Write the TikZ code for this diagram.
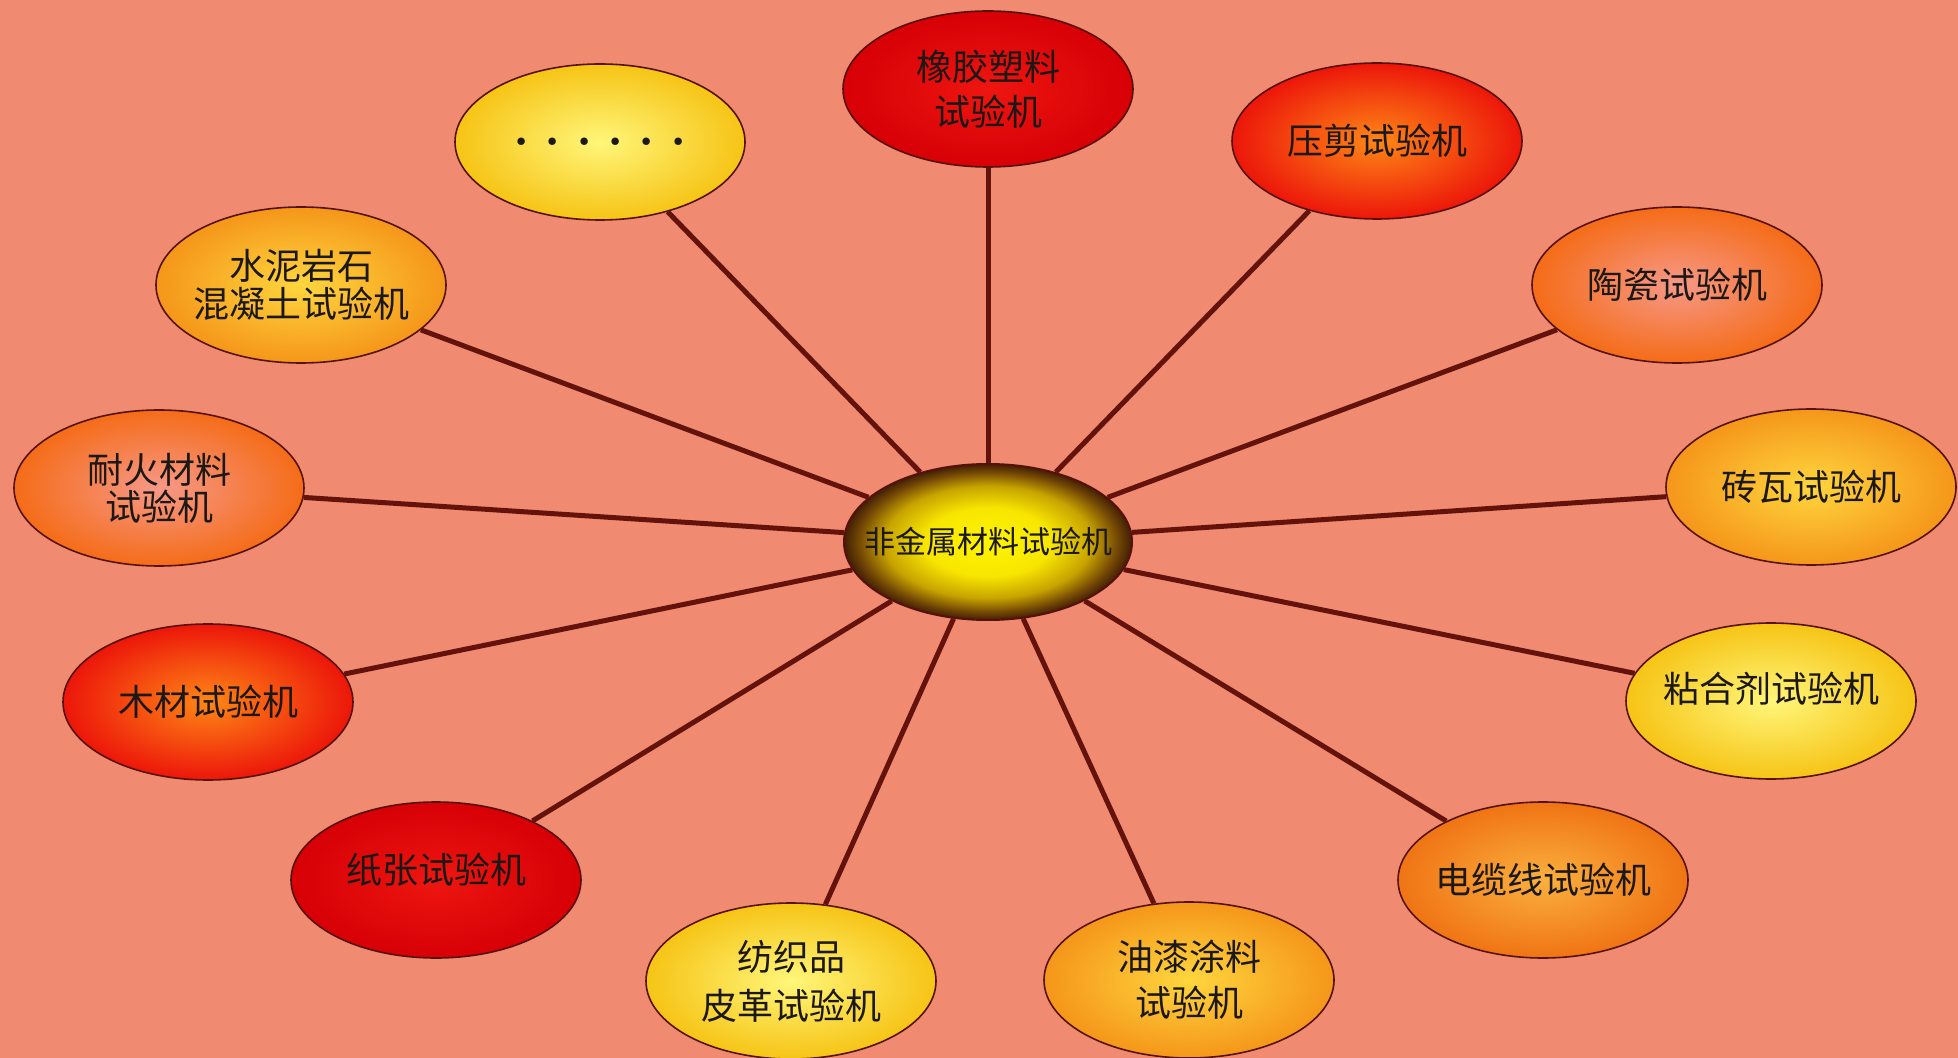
\documentclass[tikz,border=0pt]{standalone}
\usepackage{fontspec}
\newfontfamily\cjk{Noto Sans CJK SC}
\usetikzlibrary{shapes.geometric}
\definecolor{bg}{RGB}{240,138,112}
\definecolor{wire}{RGB}{100,18,12}
\definecolor{rim}{RGB}{85,18,10}
\definecolor{textc}{RGB}{28,24,22}
\pgfdeclareradialshading{hubshade}{\pgfpoint{0bp}{0bp}}{rgb(0bp)=(1,0.96,0); rgb(11bp)=(0.97,0.9,0); rgb(18bp)=(0.78,0.64,0); rgb(22.5bp)=(0.45,0.28,0.02); rgb(25bp)=(0.26,0.12,0.02); rgb(50bp)=(0.26,0.12,0.02)}
\begin{document}
\begin{tikzpicture}[x=0.5pt,y=-0.5pt,
  bubble/.style={ellipse, draw=rim, line width=0.8pt, minimum width=145pt, minimum height=78pt,
    inner sep=-14pt, align=center, text=textc, font=\cjk\fontsize{18}{21}\selectfont},
  hubstyle/.style={ellipse, draw=rim, line width=1pt, minimum width=144pt, minimum height=78pt,
    inner sep=-14pt, shading=hubshade, text=textc, font=\cjk\fontsize{15.5}{18}\selectfont},
  redA/.style={inner color={rgb,255:red,238;green,22;blue,16}, outer color={rgb,255:red,214;green,0;blue,6}},
  redO/.style={inner color={rgb,255:red,255;green,135;blue,22}, outer color={rgb,255:red,236;green,22;blue,10}},
  pinkO/.style={inner color={rgb,255:red,246;green,152;blue,136}, outer color={rgb,255:red,245;green,108;blue,24}},
  amber/.style={inner color={rgb,255:red,255;green,214;blue,62}, outer color={rgb,255:red,245;green,150;blue,26}},
  orng/.style={inner color={rgb,255:red,250;green,176;blue,62}, outer color={rgb,255:red,240;green,116;blue,20}},
  yell/.style={inner color={rgb,255:red,255;green,246;blue,122}, outer color={rgb,255:red,246;green,196;blue,22}},
  wirestyle/.style={draw=wire, line width=2.5pt}]
\fill[bg] (0,0) rectangle (1958,1058);
\useasboundingbox (0,0) rectangle (1958,1058);

\node[hubstyle] (hub) at (988,542) {非金属材料试验机};

\node[bubble,redA]  (n1)  at (988,89)   {橡胶塑料\\[1.5pt]试验机};
\node[bubble,yell]  (n2)  at (600,142)  {\fontfamily{lmr}\fontsize{26}{26}\selectfont\bfseries .\hspace{7.5pt}.\hspace{7.5pt}.\hspace{7.5pt}.\hspace{7.5pt}.\hspace{7.5pt}.};
\node[bubble,redO]  (n3)  at (1377,141) {压剪试验机};
\node[bubble,amber] (n4)  at (301,285)  {水泥岩石\\[-2pt]混凝土试验机};
\node[bubble,pinkO] (n5)  at (1677,285) {陶瓷试验机};
\node[bubble,pinkO] (n6)  at (159,488)  {耐火材料\\[-2.5pt]试验机};
\node[bubble,amber] (n7)  at (1811,487) {砖瓦试验机};
\node[bubble,redO]  (n8)  at (208,702)  {木材试验机};
\node[bubble,yell,text depth=14pt]  (n9)  at (1771,701) {粘合剂试验机};
\node[bubble,redA,text depth=12pt]  (n10) at (436,880)  {纸张试验机};
\node[bubble,orng]  (n11) at (1543,880) {电缆线试验机};
\node[bubble,yell]  (n12) at (791,981)  {纺织品\\[3.5pt]皮革试验机};
\node[bubble,amber] (n13) at (1189,980) {油漆涂料\\[2pt]试验机};

\foreach \n in {n1,n2,n3,n4,n5,n6,n7,n8,n9,n10,n11,n12,n13}
  \draw[wirestyle] (hub) -- (\n);
\end{tikzpicture}
\end{document}
